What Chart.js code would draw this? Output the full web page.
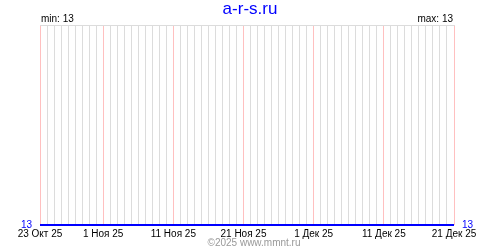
<!DOCTYPE html>
<html>
<head>
<meta charset="utf-8">
<script src="https://cdn.jsdelivr.net/npm/chart.js@4"></script>
<style>
  html, body { margin: 0; padding: 0; background: #fff; }
  #wrap { width: 500px; height: 250px; }
</style>
</head>
<body>
<div id="wrap"><canvas id="chart" width="500" height="250"></canvas></div>
<script>
// days since 23 Oct 25, one value per day
const values = [
  13, 13, 13, 13, 13, 13, 13, 13, 13, 13,
  13, 13, 13, 13, 13, 13, 13, 13, 13, 13,
  13, 13, 13, 13, 13, 13, 13, 13, 13, 13,
  13, 13, 13, 13, 13, 13, 13, 13, 13, 13,
  13, 13, 13, 13, 13, 13, 13, 13, 13, 13,
  13, 13, 13, 13, 13, 13, 13, 13, 13, 13
];
const tickDays = [0, 9, 19, 29, 39, 49, 59];
const tickLabels = ['23 Окт 25', '1 Ноя 25', '11 Ноя 25', '21 Ноя 25', '1 Дек 25', '11 Дек 25', '21 Дек 25'];
const minVal = 13;
const maxVal = 13;

const FONT = '"Liberation Sans", Arial, sans-serif';

const points = values.map((v, i) => ({ x: i, y: v }));

// texts outside the plot: title, min/max, copyright
const extraText = {
  id: 'extraText',
  afterDraw(chart) {
    const c = chart.ctx;
    const a = chart.chartArea;
    c.save();
    c.textBaseline = 'middle';
    c.fillStyle = '#0000ff';
    c.font = '17px ' + FONT;
    c.textAlign = 'center';
    c.fillText('a-r-s.ru', 250, 9);
    c.fillStyle = '#000';
    c.font = '10px ' + FONT;
    c.textAlign = 'left';
    c.fillText('min: ' + minVal, a.left + 1, 19);
    c.textAlign = 'right';
    c.fillText('max: ' + maxVal, a.right - 1, 19);
    c.fillStyle = '#999';
    c.textAlign = 'center';
    c.fillText('©2025 www.mmnt.ru', 254, 243);
    c.restore();
  }
};

new Chart(document.getElementById('chart').getContext('2d'), {
  type: 'line',
  data: {
    datasets: [{
      data: points,
      borderColor: '#0000ff',
      borderWidth: 2,
      pointRadius: 0,
      tension: 0,
      clip: false
    }]
  },
  options: {
    responsive: false,
    animation: false,
    layout: { padding: { top: 25, left: 0, right: 0, bottom: 0 } },
    plugins: { legend: { display: false }, tooltip: { enabled: false } },
    scales: {
      x: {
        type: 'linear',
        min: 0,
        max: 59,
        afterFit: s => { s.height = 25; },
        afterBuildTicks: s => { s.ticks = values.map((v, i) => ({ value: i })); },
        grid: {
          drawTicks: false,
          color: ctx => tickDays.includes(ctx.tick.value) ? '#ffc0c0' : '#dcdcdc',
          lineWidth: 1
        },
        border: { display: false },
        ticks: {
          autoSkip: false,
          maxRotation: 0,
          padding: 3,
          color: '#000',
          font: { family: FONT, size: 10 },
          callback: v => {
            const k = tickDays.indexOf(v);
            return k >= 0 ? tickLabels[k] : '';
          }
        }
      },
      xTop: {
        type: 'linear',
        position: 'top',
        min: 0,
        max: 59,
        afterFit: s => { s.height = 0; },
        grid: { display: false, drawTicks: false },
        ticks: { display: false },
        border: { display: true, color: '#dcdcdc', width: 1 }
      },
      y: {
        position: 'left',
        min: 13,
        max: 14,
        afterFit: s => { s.width = 40; },
        afterBuildTicks: s => { s.ticks = [{ value: minVal }]; },
        grid: { display: false, drawTicks: false },
        border: { display: false },
        ticks: { color: '#0000ff', padding: 8, font: { family: FONT, size: 10 } }
      },
      yRight: {
        position: 'right',
        min: 13,
        max: 14,
        afterFit: s => { s.width = 46; },
        afterBuildTicks: s => { s.ticks = [{ value: maxVal }]; },
        grid: { display: false, drawTicks: false },
        border: { display: false },
        ticks: { color: '#0000ff', padding: 8, font: { family: FONT, size: 10 } }
      }
    }
  },
  plugins: [extraText]
});
</script>
</body>
</html>
